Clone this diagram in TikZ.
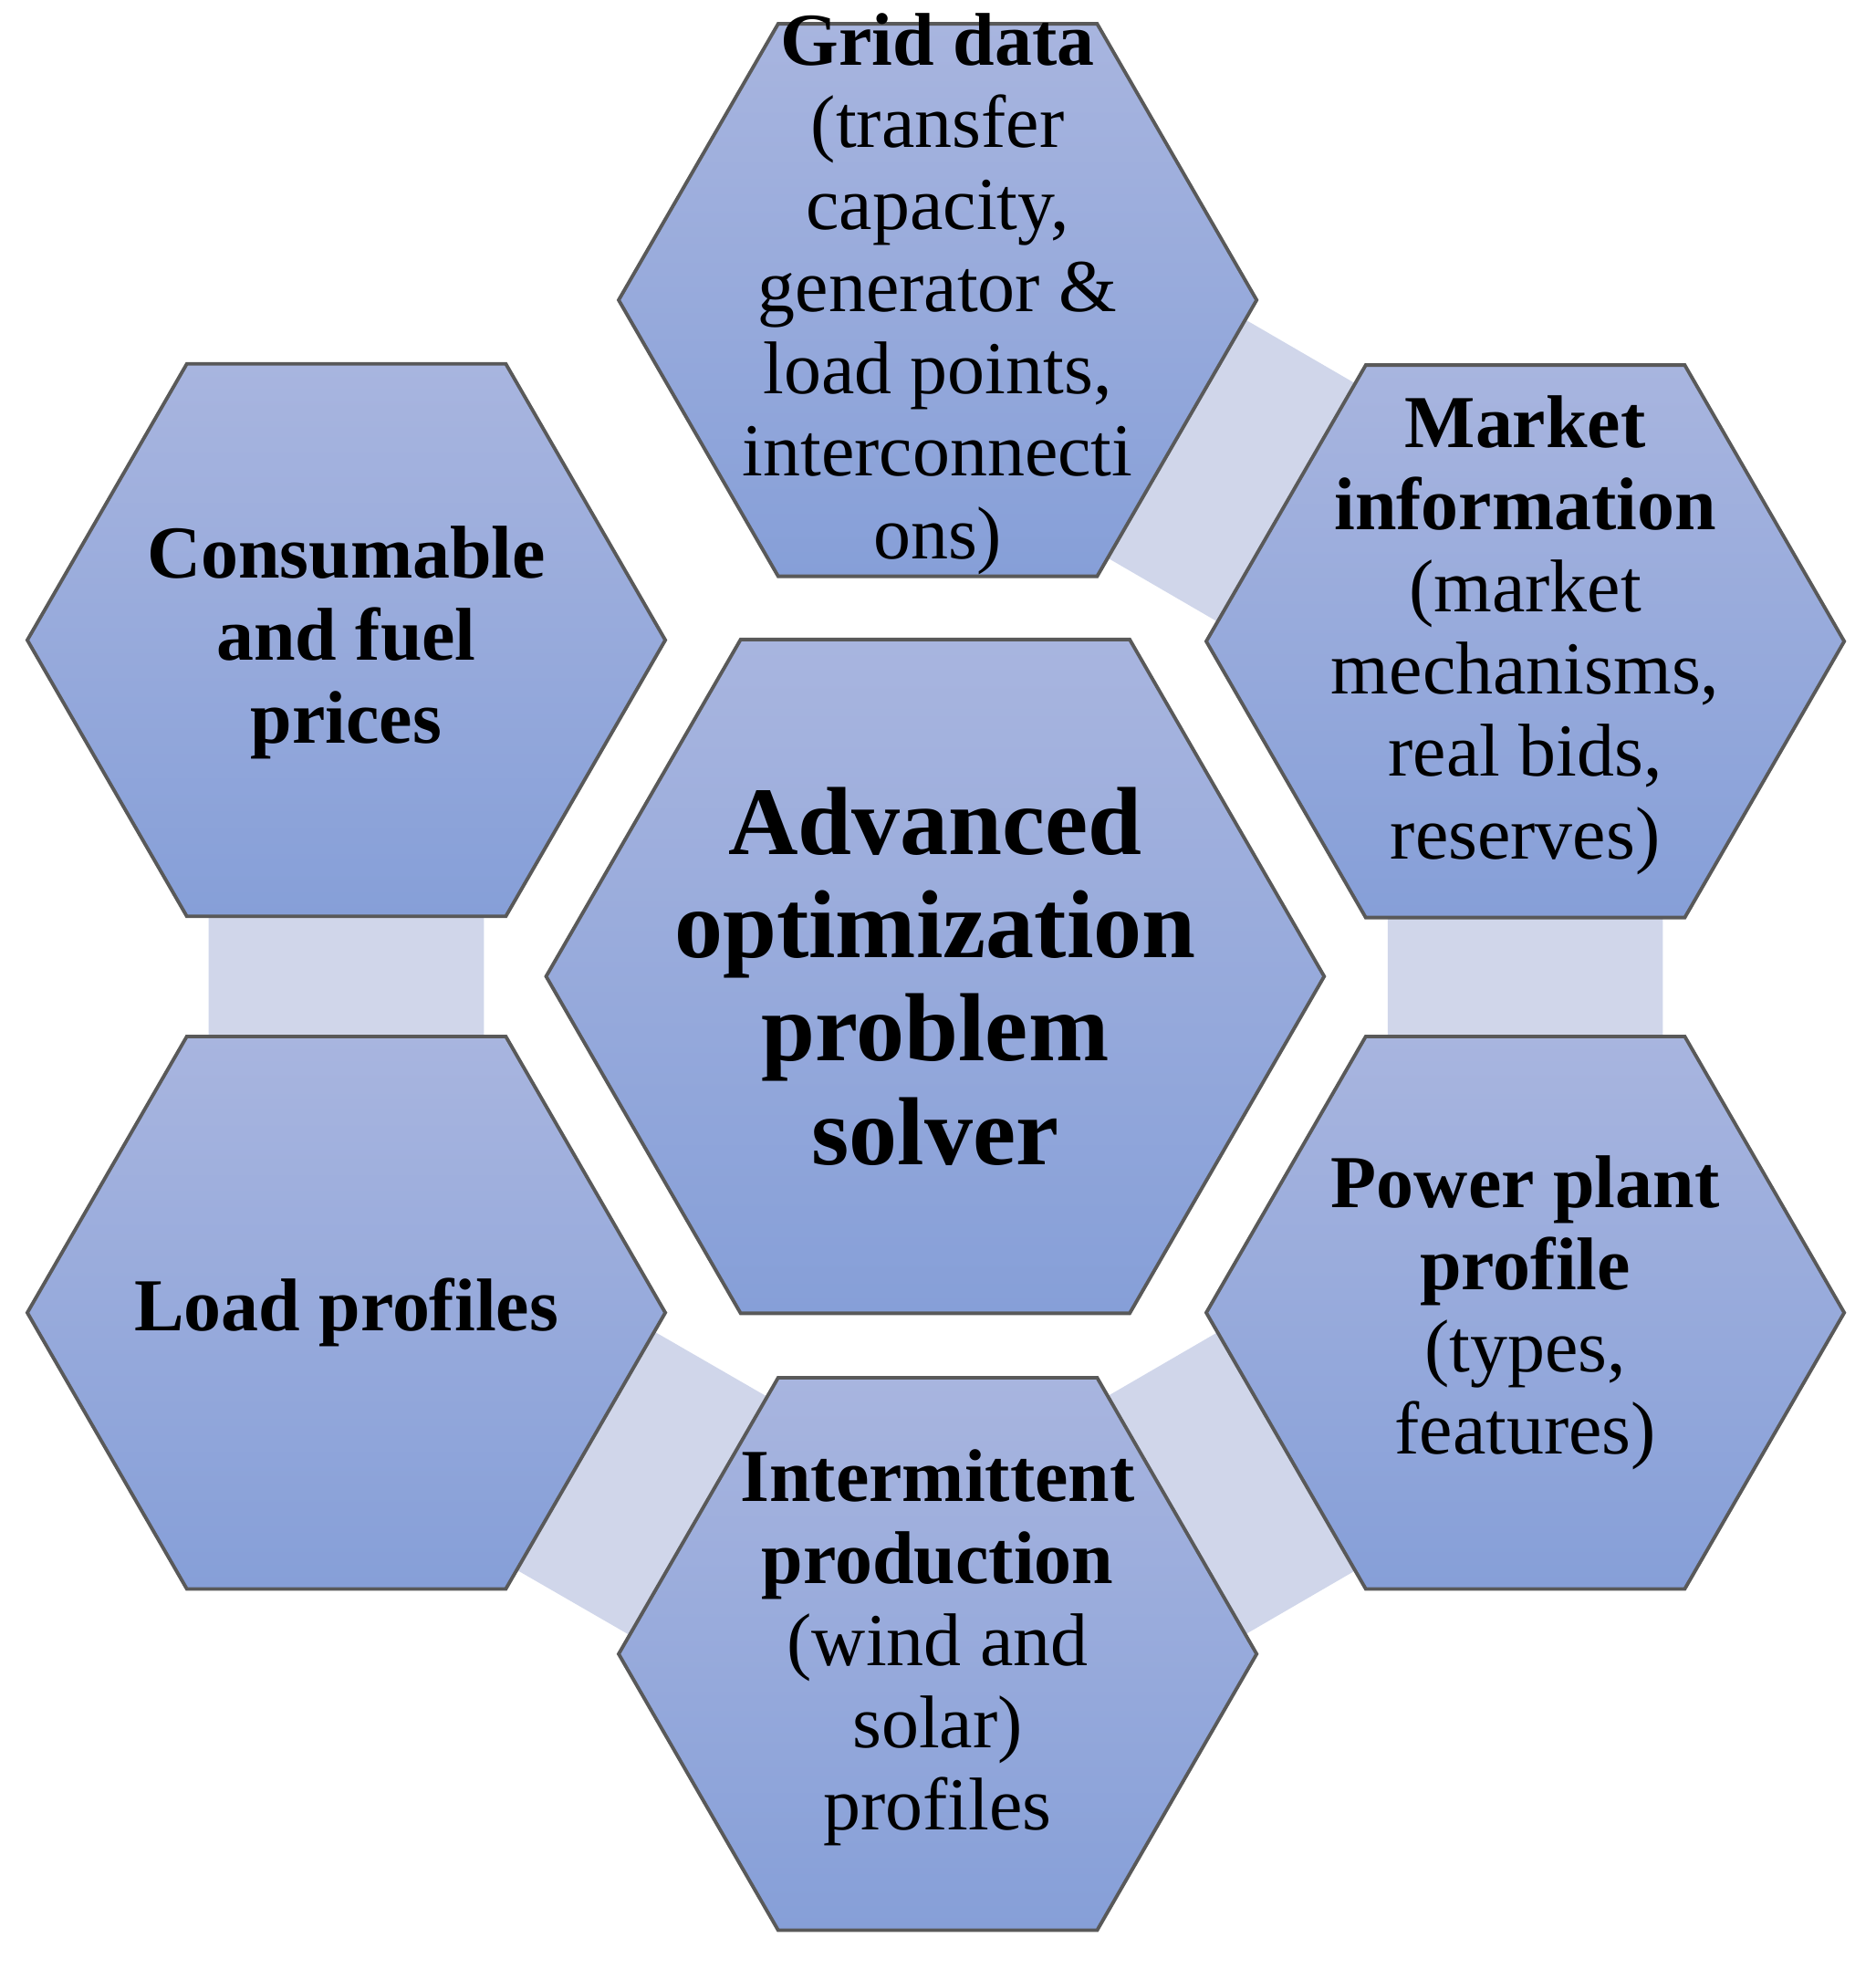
\documentclass[tikz,border=0pt]{standalone}
\usepackage{fontspec}
\setmainfont{Liberation Serif}
\usetikzlibrary{shapes.geometric}
\definecolor{hexatop}{RGB}{168,181,223}
\definecolor{hexabot}{RGB}{134,159,216}
\definecolor{bandcolor}{RGB}{208,214,234}
\tikzset{
  hexa/.style={regular polygon,regular polygon sides=6,draw=black!65,line width=0.8pt,
    top color=hexatop,bottom color=hexabot,inner sep=0pt,minimum size=5.1cm},
  bighexa/.style={hexa,minimum size=6.22cm},
  txt/.style={align=center,font=\fontsize{17}{18.7}\selectfont,inner sep=0pt},
  bigtxt/.style={align=center,font=\fontsize{22}{23.5}\selectfont\bfseries,inner sep=0pt},
  band/.style={bandcolor,line width=2.2cm}
}
\begin{document}
\begin{tikzpicture}[x=0.01cm,y=-0.01cm]
\useasboundingbox (0,0) rectangle (1500,1575);
% positions
\coordinate (pgrid) at (750,240);
\coordinate (pmarket) at (1220,513);
\coordinate (ppower) at (1220,1050);
\coordinate (pinter) at (750,1323);
\coordinate (pload) at (277,1050);
\coordinate (pcons) at (277,512);
% bands behind
\draw[band] (pgrid) -- (pmarket) -- (ppower) -- (pinter) -- (pload) -- (pcons);
% hexagons
\node[hexa] (grid) at (pgrid) {};
\node[hexa] (market) at (pmarket) {};
\node[hexa] (power) at (ppower) {};
\node[hexa] (inter) at (pinter) {};
\node[hexa] (load) at (pload) {};
\node[hexa] (cons) at (pcons) {};
\node[bighexa] (solver) at (748,781) {};
% texts
\node[txt] (gridtxt) at ([yshift=0.05cm]grid) {\textbf{Grid data}\\(transfer\\capacity,\\generator \&\\load points,\\interconnecti\\ons)};
\node[txt] (markettxt) at ([yshift=0.05cm]market) {\textbf{Market}\\\textbf{information}\\(market\\mechanisms,\\real bids,\\reserves)};
\node[txt] (powertxt) at ([yshift=0.0cm]power) {\textbf{Power plant}\\\textbf{profile}\\(types,\\features)};
\node[txt] (intertxt) at ([yshift=0.05cm]inter) {\textbf{Intermittent}\\\textbf{production}\\(wind and\\solar)\\profiles};
\node[txt] (loadtxt) at (load) {\textbf{Load profiles}};
\node[txt] (constxt) at ([yshift=-0.02cm]cons) {\textbf{Consumable}\\\textbf{and fuel}\\\textbf{prices}};
\node[bigtxt] (solvertxt) at (solver) {Advanced\\optimization\\problem\\solver};
\end{tikzpicture}
\end{document}
